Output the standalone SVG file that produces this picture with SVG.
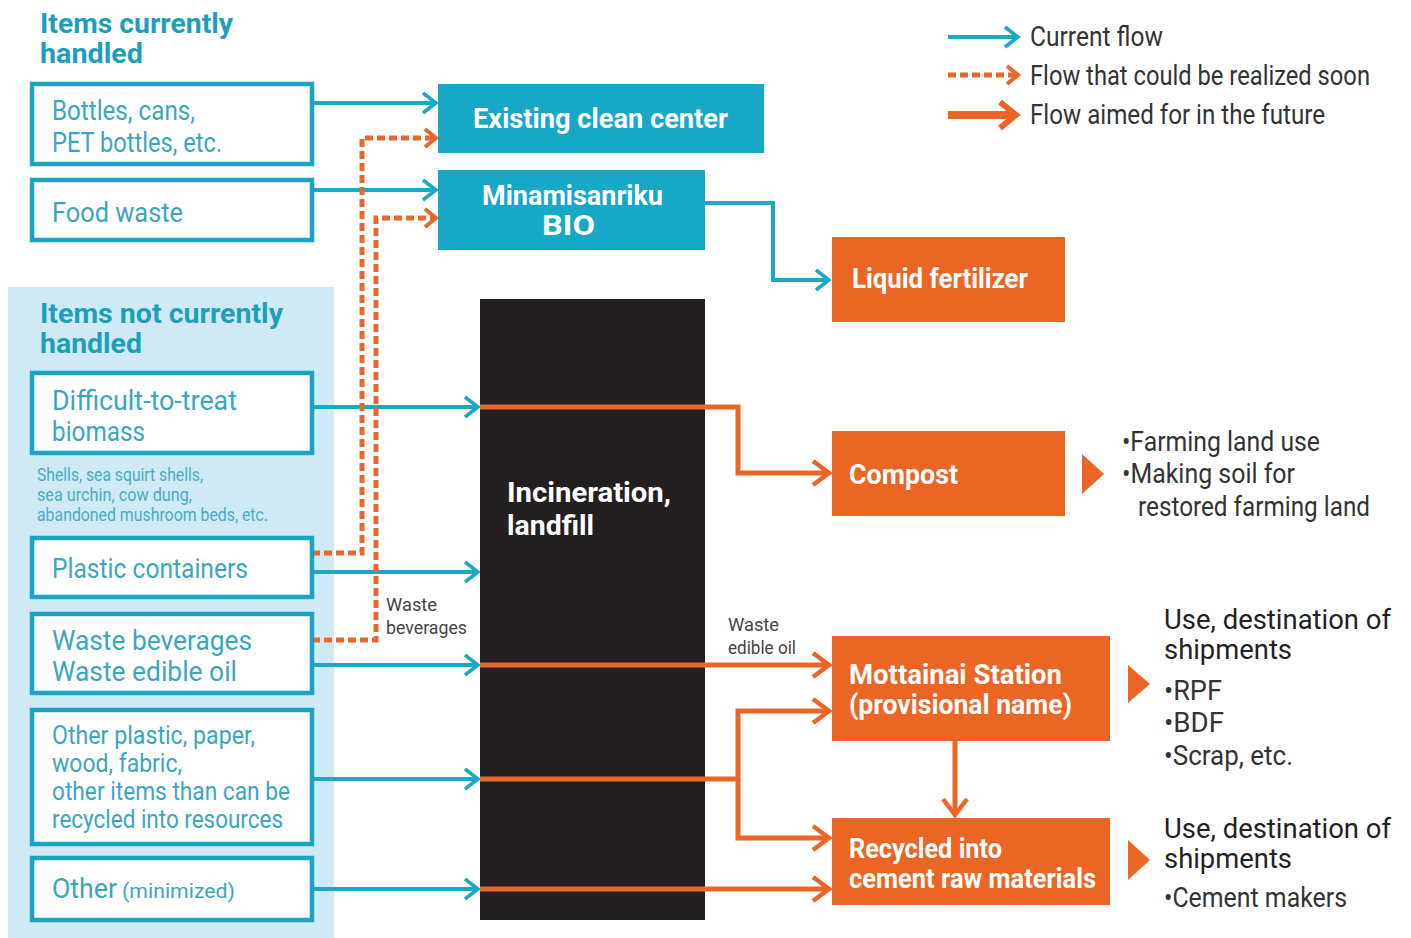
<svg xmlns="http://www.w3.org/2000/svg" width="1411" height="938" viewBox="0 0 1411 938">
<style>
text { font-family: "Liberation Sans Narrow", "Roboto", "Liberation Sans", sans-serif; }
.box { fill: #ffffff; stroke: #1ba3c2; stroke-width: 4.5; }
.cbox { fill: #17a8c8; }
.obox { fill: #eb6625; }
.bt { fill: #3ca6be; font-size: 27px; }
.bs { fill: #3ca6be; font-size: 25px; }
.hd { fill: #1d9fba; font-size: 27px; font-weight: bold; }
.wl { fill: #ffffff; font-size: 27px; font-weight: bold; }
.dk { fill: #333333; font-size: 27px; }
.dh { fill: #222222; font-size: 28px; }
.sm { fill: #444444; font-size: 19px; }
.sub { fill: #4aabc3; font-size: 18px; }
.cy { stroke: #1ba8c6; stroke-width: 4; fill: none; marker-end: url(#ac); }
.or { stroke: #eb6626; stroke-width: 5; fill: none; marker-end: url(#ao); }
.od { stroke: #e8682a; stroke-width: 5; stroke-dasharray: 8 4; fill: none; marker-end: url(#ad); }
.tri { fill: #eb6625; }
</style>
<defs>
<marker id="ac" markerUnits="userSpaceOnUse" markerWidth="30" markerHeight="30" viewBox="0 0 30 30" refX="15" refY="15" orient="auto">
<path d="M2,5 L15,15 L2,25" fill="none" stroke="#1ba8c6" stroke-width="3.5"/>
</marker>
<marker id="ao" markerUnits="userSpaceOnUse" markerWidth="40" markerHeight="40" viewBox="0 0 40 40" refX="20" refY="20" orient="auto">
<path d="M4,8 L20,20 L4,32" fill="none" stroke="#eb6626" stroke-width="4.5"/>
</marker>
<marker id="ad" markerUnits="userSpaceOnUse" markerWidth="30" markerHeight="30" viewBox="0 0 30 30" refX="15" refY="15" orient="auto">
<path d="M4,6 L15,15 L4,24" fill="none" stroke="#e8682a" stroke-width="4"/>
</marker>
<marker id="al" markerUnits="userSpaceOnUse" markerWidth="40" markerHeight="40" viewBox="0 0 40 40" refX="20" refY="20" orient="auto">
<path d="M4,7 L20,20 L4,33" fill="none" stroke="#eb6626" stroke-width="6"/>
</marker>
</defs>

<rect width="1411" height="938" fill="#ffffff"/>

<rect id="panel-not-handled" x="8" y="287" width="326" height="651" fill="#cfeaf4"/>

<g id="heading-handled">
<text class="hd" x="40" y="33" textLength="193" lengthAdjust="spacingAndGlyphs">Items currently</text>
<text class="hd" x="40" y="63" textLength="103" lengthAdjust="spacingAndGlyphs">handled</text>
</g>
<g id="heading-not-handled">
<text class="hd" x="40" y="323" textLength="243" lengthAdjust="spacingAndGlyphs">Items not currently</text>
<text class="hd" x="40" y="353" textLength="102" lengthAdjust="spacingAndGlyphs">handled</text>
</g>

<g id="legend">
<line x1="948" y1="37" x2="1018" y2="37" class="cy"/>
<line x1="948" y1="75" x2="1018" y2="75" class="od"/>
<line x1="948" y1="115" x2="1016" y2="115" stroke="#eb6626" stroke-width="8" fill="none" marker-end="url(#al)"/>
<text class="dk" x="1030" y="46" textLength="133" lengthAdjust="spacingAndGlyphs">Current flow</text>
<text class="dk" x="1030" y="85" textLength="340" lengthAdjust="spacingAndGlyphs">Flow that could be realized soon</text>
<text class="dk" x="1030" y="124" textLength="295" lengthAdjust="spacingAndGlyphs">Flow aimed for in the future</text>
</g>

<g id="connectors">
<path class="cy" d="M312,103 H436"/>
<path class="cy" d="M312,190 H436"/>
<path class="cy" d="M705,203 H773 V280 H829"/>
<path class="cy" d="M312,407 H478"/>
<path class="cy" d="M312,572 H478"/>
<path class="cy" d="M312,665 H478"/>
<path class="cy" d="M312,779 H478"/>
<path class="cy" d="M312,889 H478"/>
<path class="od" d="M312,553 H362 V138 H436"/>
<path class="od" d="M312,640 H376 V218 H436"/>
</g>

<g id="node-bottles">
<rect class="box" x="32" y="84" width="280" height="80"/>
<text class="bt" x="52" y="120" textLength="143" lengthAdjust="spacingAndGlyphs">Bottles, cans,</text>
<text class="bt" x="52" y="152" textLength="170" lengthAdjust="spacingAndGlyphs">PET bottles, etc.</text>
</g>
<g id="node-food">
<rect class="box" x="32" y="180" width="280" height="60"/>
<text class="bt" x="52" y="222" textLength="131" lengthAdjust="spacingAndGlyphs">Food waste</text>
</g>
<g id="node-biomass">
<rect class="box" x="32" y="373" width="280" height="80"/>
<text class="bt" x="52" y="410" textLength="185" lengthAdjust="spacingAndGlyphs">Difficult-to-treat</text>
<text class="bt" x="52" y="441" textLength="93" lengthAdjust="spacingAndGlyphs">biomass</text>
</g>
<g id="note-biomass">
<text class="sub" x="37" y="481" textLength="166" lengthAdjust="spacingAndGlyphs">Shells, sea squirt shells,</text>
<text class="sub" x="37" y="501" textLength="155" lengthAdjust="spacingAndGlyphs">sea urchin, cow dung,</text>
<text class="sub" x="37" y="521" textLength="231" lengthAdjust="spacingAndGlyphs">abandoned mushroom beds, etc.</text>
</g>
<g id="node-plastic">
<rect class="box" x="32" y="538" width="280" height="59"/>
<text class="bt" x="52" y="578" textLength="196" lengthAdjust="spacingAndGlyphs">Plastic containers</text>
</g>
<g id="node-waste-bev">
<rect class="box" x="32" y="614" width="280" height="79"/>
<text class="bt" x="52" y="650" textLength="200" lengthAdjust="spacingAndGlyphs">Waste beverages</text>
<text class="bt" x="52" y="681" textLength="185" lengthAdjust="spacingAndGlyphs">Waste edible oil</text>
</g>
<g id="node-other-plastic">
<rect class="box" x="32" y="710" width="280" height="134"/>
<text class="bs" x="52" y="744" textLength="203" lengthAdjust="spacingAndGlyphs">Other plastic, paper,</text>
<text class="bs" x="52" y="772" textLength="130" lengthAdjust="spacingAndGlyphs">wood, fabric,</text>
<text class="bs" x="52" y="800" textLength="238" lengthAdjust="spacingAndGlyphs">other items than can be</text>
<text class="bs" x="52" y="828" textLength="231" lengthAdjust="spacingAndGlyphs">recycled into resources</text>
</g>
<g id="node-other">
<rect class="box" x="32" y="858" width="280" height="62"/>
<text class="bt" x="52" y="898" textLength="65" lengthAdjust="spacingAndGlyphs">Other</text>
<text class="bt" x="122" y="898" style="font-size:21px" textLength="113" lengthAdjust="spacingAndGlyphs">(minimized)</text>
</g>

<g id="node-clean-center">
<rect class="cbox" x="438" y="84" width="326" height="69"/>
<text class="wl" x="473" y="128" textLength="255" lengthAdjust="spacingAndGlyphs">Existing clean center</text>
</g>
<g id="node-bio">
<rect class="cbox" x="438" y="170" width="267" height="80"/>
<text class="wl" x="482" y="205" textLength="181" lengthAdjust="spacingAndGlyphs">Minamisanriku</text>
<text class="wl" x="542" y="235" textLength="53" lengthAdjust="spacingAndGlyphs">BIO</text>
</g>
<g id="node-liquid">
<rect class="obox" x="832" y="237" width="233" height="85"/>
<text class="wl" x="852" y="288" textLength="176" lengthAdjust="spacingAndGlyphs">Liquid fertilizer</text>
</g>
<g id="node-incineration">
<rect x="480" y="299" width="225" height="621" fill="#231f20"/>
<text class="wl" x="507" y="502" textLength="164" lengthAdjust="spacingAndGlyphs">Incineration,</text>
<text class="wl" x="507" y="535" textLength="87" lengthAdjust="spacingAndGlyphs">landfill</text>
</g>

<g id="connectors-future">
<path class="or" d="M480,407 H738 V473 H829"/>
<path class="or" d="M480,665 H829"/>
<path class="or" d="M480,779 H738 V711 H829"/>
<path class="or" d="M738,779 V838 H829"/>
<path class="or" d="M480,889 H829"/>
<path class="or" d="M955,741 V815"/>
</g>

<g id="label-waste-bev">
<text class="sm" x="386" y="611" textLength="51" lengthAdjust="spacingAndGlyphs">Waste</text>
<text class="sm" x="386" y="634" textLength="81" lengthAdjust="spacingAndGlyphs">beverages</text>
</g>
<g id="label-waste-oil">
<text class="sm" x="728" y="631" textLength="51" lengthAdjust="spacingAndGlyphs">Waste</text>
<text class="sm" x="728" y="654" textLength="68" lengthAdjust="spacingAndGlyphs">edible oil</text>
</g>

<g id="node-compost">
<rect class="obox" x="832" y="431" width="233" height="85"/>
<text class="wl" x="849" y="484" textLength="109" lengthAdjust="spacingAndGlyphs">Compost</text>
<polygon class="tri" points="1082,454 1104,474 1082,494"/>
</g>
<g id="uses-compost">
<text class="dk" x="1122" y="451" textLength="198" lengthAdjust="spacingAndGlyphs">•Farming land use</text>
<text class="dk" x="1122" y="483" textLength="173" lengthAdjust="spacingAndGlyphs">•Making soil for</text>
<text class="dk" x="1138" y="516" textLength="232" lengthAdjust="spacingAndGlyphs">restored farming land</text>
</g>

<g id="node-mottainai">
<rect class="obox" x="832" y="636" width="278" height="105"/>
<text class="wl" x="849" y="684" textLength="213" lengthAdjust="spacingAndGlyphs">Mottainai Station</text>
<text class="wl" x="849" y="714" textLength="223" lengthAdjust="spacingAndGlyphs">(provisional name)</text>
<polygon class="tri" points="1128,665 1150,684 1128,703"/>
</g>
<g id="uses-mottainai">
<text class="dh" x="1164" y="629" textLength="227" lengthAdjust="spacingAndGlyphs">Use, destination of</text>
<text class="dh" x="1164" y="659" textLength="128" lengthAdjust="spacingAndGlyphs">shipments</text>
<text class="dk" x="1164" y="700" textLength="58" lengthAdjust="spacingAndGlyphs">•RPF</text>
<text class="dk" x="1164" y="732" textLength="60" lengthAdjust="spacingAndGlyphs">•BDF</text>
<text class="dk" x="1164" y="765" textLength="129" lengthAdjust="spacingAndGlyphs">•Scrap, etc.</text>
</g>

<g id="node-cement">
<rect class="obox" x="832" y="818" width="278" height="87"/>
<text class="wl" x="849" y="858" textLength="153" lengthAdjust="spacingAndGlyphs">Recycled into</text>
<text class="wl" x="849" y="888" textLength="247" lengthAdjust="spacingAndGlyphs">cement raw materials</text>
<polygon class="tri" points="1128,840 1150,860 1128,880"/>
</g>
<g id="uses-cement">
<text class="dh" x="1164" y="838" textLength="227" lengthAdjust="spacingAndGlyphs">Use, destination of</text>
<text class="dh" x="1164" y="868" textLength="128" lengthAdjust="spacingAndGlyphs">shipments</text>
<text class="dk" x="1164" y="907" textLength="183" lengthAdjust="spacingAndGlyphs">•Cement makers</text>
</g>
</svg>
